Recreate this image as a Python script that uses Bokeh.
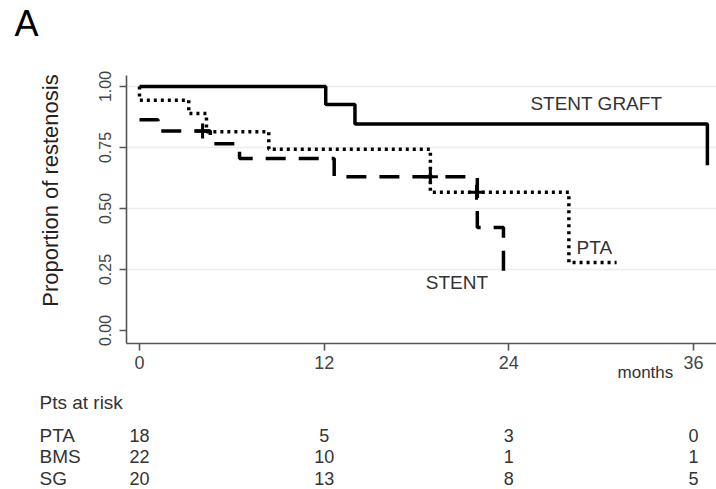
from math import pi
from bokeh.plotting import figure
from bokeh.models import (Range1d, Label, LabelSet, ColumnDataSource, FixedTicker,
                          NumeralTickFormatter)
from bokeh.core.properties import value
from bokeh.embed import file_html
from bokeh.resources import INLINE

# ---- data ----
pta_t = [0.0, 0.0, 3.2, 4.35, 8.4, 18.9, 27.9, 31.0]
pta_s = [1.0, 0.944, 0.889, 0.815, 0.743, 0.567, 0.279, 0.279]
stent_t = [0.0, 1.2, 4.6, 6.5, 12.65, 21.95, 23.65]
stent_s = [0.864, 0.818, 0.765, 0.705, 0.630, 0.422, 0.218]
sg_t = [0.0, 12.1, 14.0, 36.9]
sg_s = [1.0, 0.926, 0.846, 0.677]

stent_cens_t = [4.1, 18.9]
stent_cens_s = [0.818, 0.630]
pta_cens_t = [21.9]
pta_cens_s = [0.567]

x_ticks = [0, 12, 24, 36]
y_ticks = [0.0, 0.25, 0.5, 0.75, 1.0]
grid_ticks = [0.25, 0.5, 0.75, 1.0]

risk_groups = ["PTA", "BMS", "SG"]
risk_pta = [18, 5, 3, 0]
risk_bms = [22, 10, 1, 1]
risk_sg = [20, 13, 8, 5]

curve_labels = ["STENT GRAFT", "PTA", "STENT"]
curve_label_t = [25.4, 28.4, 18.6]
curve_label_s = [0.93, 0.34, 0.197]

FONT = "Liberation Sans"

# plotting area (data coordinates of the drawn axes box)
X_LO, X_HI = -0.845, 37.49
Y_LO, Y_HI = -0.053, 1.045

p = figure(width=716, height=489, output_backend="svg", toolbar_location=None,
           x_range=Range1d(-9.032, 37.492), y_range=Range1d(-0.6516, 1.3525),
           min_border=0)
p.outline_line_color = None
p.background_fill_color = "white"
p.border_fill_color = "white"

# grid lines (only across the axes box)
p.xgrid.visible = False
p.ygrid.visible = False
p.segment(x0=[X_LO] * len(grid_ticks), x1=[X_HI] * len(grid_ticks),
          y0=grid_ticks, y1=grid_ticks, line_color="#ececec", line_width=1.3)

# axes
for ax in (p.xaxis, p.yaxis):
    ax.axis_line_color = "#555555"
    ax.axis_line_width = 1.6
    ax.major_tick_line_color = "#555555"
    ax.major_tick_line_width = 1.6
    ax.major_tick_out = 7
    ax.major_tick_in = 0
    ax.minor_tick_line_color = None
    ax.major_label_text_color = "#444444"
    ax.major_label_text_font = FONT

p.xaxis.fixed_location = Y_LO
p.xaxis.bounds = (X_LO, X_HI)
p.xaxis.ticker = FixedTicker(ticks=x_ticks)
p.xaxis.major_label_standoff = 6
p.xaxis.major_label_text_font_size = "18px"
p.yaxis.fixed_location = X_LO
p.yaxis.bounds = (Y_LO, Y_HI)
p.yaxis.ticker = FixedTicker(ticks=y_ticks)
p.yaxis.formatter = NumeralTickFormatter(format="0.00")
p.yaxis.major_label_orientation = "vertical"
p.yaxis.major_label_standoff = 8
p.yaxis.major_label_text_font_size = "16px"

# y-axis title
p.add_layout(Label(x=-5.78, y=0.574, text="Proportion of restenosis", angle=pi / 2,
                   text_font=FONT, text_font_size="22px", text_color="#222222",
                   text_align="center", text_baseline="middle"))

# curves
p.step(sg_t, sg_s, mode="after", line_color="black", line_width=3.5)
p.step(pta_t, pta_s, mode="after", line_color="black", line_width=3.5,
       line_dash="3 4")
p.step(stent_t, stent_s, mode="after", line_color="black", line_width=3.5,
       line_dash="20 13")
p.scatter(stent_cens_t, stent_cens_s, marker="cross", size=15,
          line_color="black", line_width=3)
p.scatter(pta_cens_t, pta_cens_s, marker="cross", size=15,
          line_color="black", line_width=3)

# curve labels
for txt, t, s in zip(curve_labels, curve_label_t, curve_label_s):
    p.add_layout(Label(x=t, y=s, text=txt, text_font=FONT, text_font_size="19px",
                       text_color="#333333", text_baseline="middle",
                       text_align="left"))

# panel letter
p.add_layout(Label(x=-8.12, y=1.26, text="A", text_font=FONT, text_font_size="36px",
                   text_color="black", text_baseline="middle", text_align="left"))

# "months"
p.add_layout(Label(x=31.06, y=-0.172, text="months", text_font=FONT,
                   text_font_size="17px", text_color="#333333",
                   text_baseline="middle", text_align="left"))

# risk table
p.add_layout(Label(x=-6.5, y=-0.295, text="Pts at risk", text_font=FONT,
                   text_font_size="19px", text_color="#333333",
                   text_baseline="middle", text_align="left"))
row_y = [-0.430, -0.516, -0.607]
for g, ry, vals in zip(risk_groups, row_y, [risk_pta, risk_bms, risk_sg]):
    p.add_layout(Label(x=-6.5, y=ry, text=g, text_font=FONT, text_font_size="19px",
                       text_color="#333333", text_baseline="middle",
                       text_align="left"))
    src = ColumnDataSource(dict(x=x_ticks, y=[ry] * len(x_ticks),
                                t=[str(v) for v in vals]))
    p.add_layout(LabelSet(x="x", y="y", text="t", source=src,
                          text_font=value(FONT), text_font_size="18px",
                          text_color="#333333", text_baseline="middle",
                          text_align="center"))

open("out.html", "w").write(file_html(p, INLINE))
